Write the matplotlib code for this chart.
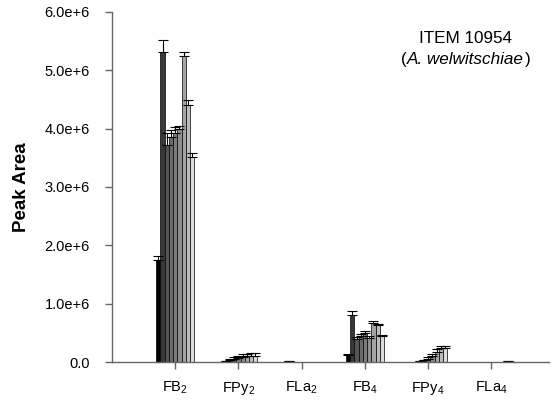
import numpy as np
import matplotlib.pyplot as plt

plt.rcParams['font.family'] = ['Liberation Sans', 'DejaVu Sans']
plt.rcParams['mathtext.fontset'] = 'custom'
plt.rcParams['mathtext.rm'] = 'Liberation Sans'
plt.rcParams['mathtext.it'] = 'Liberation Sans:italic'

# toxin groups on the x axis
groups = ['FB$_2$', 'FPy$_2$', 'FLa$_2$', 'FB$_4$', 'FPy$_4$', 'FLa$_4$']

# peak area (x1e6), 9 samples per group
fb2 = [1.75, 5.32, 3.72, 3.85, 3.93, 4.00, 5.25, 4.40, 3.52]
fpy2 = [0.0, 0.01, 0.03, 0.05, 0.07, 0.09, 0.10, 0.11, 0.10]
fla2 = [0.0, 0.01, 0.0, 0.0, 0.0, 0.0, 0.0, 0.0, 0.0]
fb4 = [0.12, 0.80, 0.40, 0.45, 0.50, 0.42, 0.67, 0.63, 0.45]
fpy4 = [0.0, 0.005, 0.01, 0.03, 0.06, 0.10, 0.18, 0.24, 0.24]
fla4 = [0.0, 0.0, 0.0, 0.0, 0.0, 0.0, 0.0, 0.0, 0.01]

# upper error (x1e6)
fb2_err = [0.07, 0.20, 0.21, 0.13, 0.09, 0.05, 0.06, 0.09, 0.07]
fpy2_err = [0.0, 0.01, 0.02, 0.03, 0.03, 0.04, 0.04, 0.04, 0.05]
fla2_err = [0.0, 0.01, 0.0, 0.0, 0.0, 0.0, 0.0, 0.0, 0.0]
fb4_err = [0.02, 0.07, 0.03, 0.03, 0.03, 0.03, 0.03, 0.03, 0.02]
fpy4_err = [0.0, 0.0, 0.005, 0.01, 0.02, 0.03, 0.04, 0.04, 0.04]
fla4_err = [0.0, 0.0, 0.0, 0.0, 0.0, 0.0, 0.0, 0.0, 0.01]

vals = np.array([fb2, fpy2, fla2, fb4, fpy4, fla4]) * 1e6
errs = np.array([fb2_err, fpy2_err, fla2_err, fb4_err, fpy4_err, fla4_err]) * 1e6

shades = ['#000000', '#383838', '#555555', '#6a6a6a', '#7c7c7c',
          '#8e8e8e', '#a4a4a4', '#bcbcbc', '#dcdcdc']

fig = plt.figure(figsize=(5.51, 4.08), dpi=100)
ax = fig.add_axes([112 / 551, 46 / 408, 437 / 551, 350 / 408])

x = np.arange(1, len(groups) + 1)
n = len(shades)
w = 0.6 / n
for i in range(n):
    xi = x + (i - (n - 1) / 2) * w
    ax.bar(xi, vals[:, i], w, color=shades[i], edgecolor='black', linewidth=0.5)
    m = errs[:, i] > 0
    ax.errorbar(xi[m], vals[m, i], yerr=[np.zeros(m.sum()), errs[m, i]],
                fmt='none', ecolor='black', elinewidth=0.8, capsize=3.5, capthick=0.8)

ax.set_xlim(0, 6.91)
ax.set_ylim(0, 6e6)
ax.set_yticks(np.arange(0, 6.1e6, 1e6))
ax.set_yticklabels(['0.0'] + ['%.1fe+6' % v for v in range(1, 7)])
ax.set_xticks(x)
ax.set_xticklabels(groups)
ax.tick_params(axis='both', direction='out', length=5, color='#666666', width=1)
ax.tick_params(axis='y', labelsize=10.5, pad=11)
ax.tick_params(axis='x', labelsize=10.5, pad=8)
for s in ['top', 'right']:
    ax.spines[s].set_visible(False)
for s in ['left', 'bottom']:
    ax.spines[s].set_color('#666666')
    ax.spines[s].set_linewidth(1)

ax.set_ylabel('Peak Area', fontsize=13.5, fontweight='bold', labelpad=10.5)

ax.text(0.808, 0.924, 'ITEM 10954', transform=ax.transAxes, ha='center',
        va='center', fontsize=12.3)
sp = ax.text(0.808, 0.863, 'A. welwitschiae', transform=ax.transAxes, ha='center',
             va='center', fontsize=12.3, style='italic')
fig.canvas.draw()
bb = sp.get_window_extent().transformed(ax.transAxes.inverted())
ax.text(bb.x0, 0.863, '(', transform=ax.transAxes, ha='right', va='center', fontsize=12.3)
ax.text(bb.x1 + 0.004, 0.863, ')', transform=ax.transAxes, ha='left', va='center', fontsize=12.3)

fig.savefig('out.png', dpi=100)
